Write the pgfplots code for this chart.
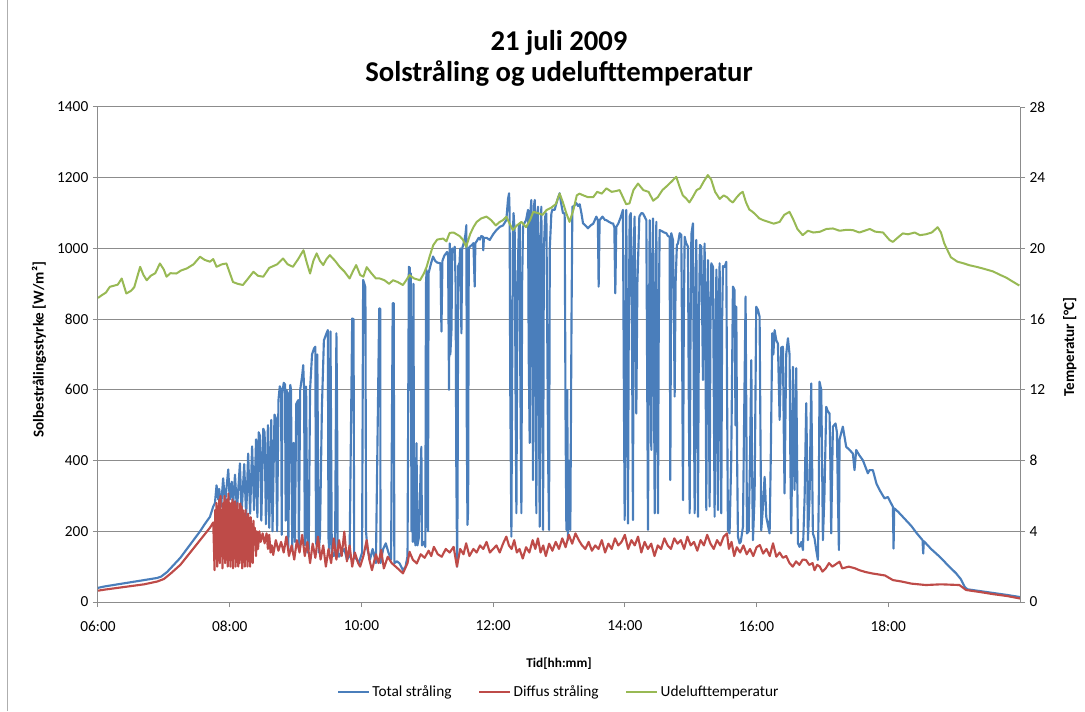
\documentclass[border=0pt]{standalone}
\usepackage{fontspec}
\setmainfont{Carlito}
\usepackage{pgfplots}
\pgfplotsset{compat=1.18}

\definecolor{totblue}{HTML}{4A7EBB}
\definecolor{difred}{HTML}{BE4B48}
\definecolor{tempgreen}{HTML}{98B954}
\definecolor{gridgray}{HTML}{8C8C8C}

% 1 px of the reference = 0.75pt
\pgfplotsset{
  base/.style={
    width=691.5pt, height=371.25pt, scale only axis,
    xmin=6, xmax=20,
    tick align=outside, major tick length=3.75pt,
    tick style={gridgray, line width=0.75pt},
    axis line style={gridgray, line width=0.75pt},
    /pgf/number format/assume math mode=true,
    /pgf/number format/1000 sep={},
    ticklabel style={font=\fontsize{11.5}{13}\selectfont},
    ylabel style={font=\bfseries\fontsize{11.3}{13}\selectfont},
    xlabel style={font=\bfseries\fontsize{10}{12}\selectfont},
  },
}

\begin{document}
\begin{tikzpicture}
\begin{axis}[base, name=ax1,
  ymin=0, ymax=1400, ytick={0,200,...,1400},
  axis y line*=left, axis x line*=bottom,
  xtick={6,8,...,18},
  xticklabels={06:00,08:00,10:00,12:00,14:00,16:00,18:00},
  xticklabel style={yshift=-7pt},
  ymajorgrids, grid style={gridgray, line width=0.75pt},
  xlabel={Tid[hh:mm]},
  xlabel style={at={(axis description cs:0.5,-0.125)}, anchor=center},
  ylabel={Solbestrålingsstyrke [W/m²]},
  ylabel style={at={(axis description cs:-0.064,0.51)}, anchor=center},
]
% Total straaling
\addplot[totblue, line width=1.6pt, line join=round] table {
t v
6.00 40
6.10 44
6.30 50
6.50 56
6.70 62
6.90 68
6.96 72
7.05 85
7.15 105
7.25 125
7.35 150
7.45 175
7.55 200
7.62 220
7.70 241
7.75 270
7.776 280
7.80 330
7.826 290
7.84 320
7.87 270
7.90 350
7.93 280
7.978 375
8.00 290
8.03 340
8.05 270
8.08 360
8.11 260
8.155 392
8.18 250
8.22 390
8.25 240
8.28 420
8.31 250
8.34 440
8.37 260
8.40 460
8.42 240
8.44 480
8.46 470
8.48 230
8.51 490
8.53 480
8.55 220
8.58 500
8.60 210
8.63 515
8.65 200
8.68 530
8.70 520
8.72 200
8.74 570
8.76 610
8.78 600
8.79 190
8.80 590
8.82 620
8.84 615
8.85 230
8.86 600
8.88 590
8.89 150
8.91 560
8.92 614
8.93 600
8.95 145
8.97 450
8.99 170
9.01 560
9.04 571
9.05 150
9.07 600
9.10 640
9.116 670
9.13 600
9.14 160
9.16 609
9.18 140
9.20 150
9.22 600
9.25 700
9.28 717
9.30 722
9.31 170
9.32 160
9.33 700
9.35 140
9.37 185
9.40 550
9.43 740
9.47 760
9.49 769
9.50 180
9.51 150
9.53 765
9.55 140
9.58 130
9.60 150
9.62 760
9.63 560
9.64 150
9.66 128
9.70 140
9.74 150
9.78 120
9.82 130
9.86 802
9.88 800
9.89 130
9.93 120
9.96 110
10.01 140
10.026 911
10.04 903
10.06 890
10.07 200
10.09 150
10.13 120
10.17 150
10.22 110
10.27 830
10.285 830
10.29 110
10.33 150
10.37 166
10.41 140
10.45 120
10.475 845
10.49 845
10.50 110
10.54 115
10.58 109
10.63 90
10.67 100
10.70 130
10.72 948
10.735 945
10.74 600
10.75 930
10.76 200
10.77 581
10.78 170
10.79 900
10.80 220
10.82 160
10.836 449
10.85 160
10.87 180
10.91 439
10.92 160
10.95 170
10.97 156
10.98 900
10.99 939
11.00 250
11.01 200
11.02 930
11.04 945
11.06 960
11.088 977
11.12 965
11.15 960
11.20 958
11.215 765
11.23 965
11.26 980
11.30 990
11.316 977
11.33 600
11.341 1014
11.35 700
11.367 769
11.38 1000
11.40 990
11.417 1005
11.43 900
11.44 400
11.453 100
11.46 300
11.47 950
11.49 960
11.50 1000
11.518 760
11.53 1000
11.56 1020
11.58 1040
11.594 1066
11.60 500
11.61 218
11.62 260
11.63 1000
11.645 1005
11.68 1010
11.70 1015
11.72 892
11.73 1015
11.746 1019
11.78 1030
11.80 1025
11.82 1035
11.847 1033
11.85 995
11.86 1030
11.90 1030
11.948 1024
12.00 1040
12.05 1052
12.10 1061
12.15 1065
12.20 1080
12.226 1140
12.242 1156
12.25 1100
12.26 600
12.277 185
12.29 700
12.30 1040
12.31 1100
12.328 1043
12.34 600
12.353 251
12.37 900
12.39 1060
12.403 1071
12.41 700
12.429 251
12.44 900
12.454 1061
12.47 1070
12.50 1080
12.52 1100
12.53 1109
12.54 700
12.555 450
12.565 1100
12.58 1137
12.59 800
12.606 345
12.62 1120
12.631 1137
12.645 700
12.656 251
12.67 1100
12.682 1118
12.695 600
12.707 213
12.72 1000
12.732 1118
12.745 700
12.758 204
12.77 1000
12.79 1090
12.808 1099
12.82 800
12.835 400
12.849 204
12.86 1000
12.884 1099
12.90 1110
12.935 1109
12.95 1120
12.98 1140
13.01 1156
13.03 1130
13.06 1100
13.086 1099
13.10 500
13.112 204
13.125 600
13.137 175
13.15 400
13.172 204
13.19 800
13.203 1118
13.23 1120
13.263 1128
13.29 1120
13.314 1125
13.34 1100
13.365 1071
13.40 1065
13.44 1057
13.48 1065
13.52 1070
13.567 1090
13.59 1080
13.602 892
13.617 1080
13.66 1090
13.70 1080
13.719 1080
13.76 1075
13.80 1071
13.82 1071
13.84 1060
13.855 873
13.87 1061
13.90 1070
13.94 1090
13.971 1109
13.985 600
13.997 232
14.01 700
14.022 1109
14.035 600
14.047 222
14.06 800
14.073 1090
14.09 1100
14.11 700
14.123 232
14.135 1000
14.148 1090
14.16 800
14.174 533
14.19 900
14.22 1090
14.25 1100
14.275 1099
14.30 1090
14.326 1080
14.34 600
14.351 204
14.365 700
14.377 1080
14.39 800
14.402 430
14.415 900
14.427 1085
14.44 700
14.453 251
14.465 800
14.478 1075
14.49 600
14.503 251
14.515 800
14.528 1052
14.55 1050
14.579 1047
14.60 1045
14.63 1043
14.655 1035
14.68 1033
14.69 345
14.705 1043
14.731 1024
14.745 800
14.756 581
14.77 900
14.79 1010
14.807 1014
14.832 1043
14.857 1038
14.87 700
14.883 288
14.895 800
14.908 1033
14.93 1015
14.958 1005
14.97 600
14.984 251
14.995 700
15.01 1040
15.034 1071
15.047 600
15.06 251
15.072 800
15.085 1024
15.098 600
15.11 241
15.125 800
15.14 1010
15.161 1005
15.175 800
15.186 628
15.20 900
15.211 1014
15.225 700
15.237 260
15.25 850
15.262 967
15.275 600
15.287 270
15.30 800
15.313 958
15.338 948
15.35 600
15.363 241
15.375 700
15.39 940
15.40 500
15.414 260
15.427 850
15.439 958
15.452 600
15.464 251
15.477 800
15.49 950
15.515 948
15.54 962
15.552 600
15.565 204
15.59 194
15.615 400
15.641 892
15.666 882
15.68 500
15.692 835
15.705 400
15.717 185
15.742 166
15.76 170
15.793 213
15.81 500
15.833 864
15.845 500
15.854 194
15.88 200
15.90 400
15.92 684
15.93 400
15.945 175
15.97 300
15.995 835
16.021 826
16.046 807
16.058 500
16.071 203
16.09 250
16.122 354
16.135 300
16.147 241
16.17 220
16.198 194
16.215 400
16.238 760
16.255 700
16.274 769
16.299 740
16.324 731
16.35 515
16.375 720
16.4 722
16.412 500
16.425 307
16.437 500
16.45 700
16.476 746
16.501 700
16.513 400
16.526 194
16.54 400
16.552 665
16.565 500
16.577 317
16.59 500
16.602 661
16.615 400
16.628 166
16.653 156
16.68 170
16.704 147
16.73 300
16.754 562
16.767 400
16.78 175
16.805 300
16.83 618
16.843 400
16.855 194
16.88 180
16.906 147
16.931 119
16.945 300
16.956 623
16.982 600
16.995 400
17.007 175
17.03 300
17.058 552
17.08 540
17.108 533
17.12 400
17.133 194
17.146 350
17.159 496
17.199 505
17.22 480
17.235 300
17.25 147
17.26 460
17.31 496
17.361 439
17.412 430
17.462 420
17.487 373
17.513 430
17.56 415
17.614 401
17.69 364
17.715 373
17.766 373
17.82 335
17.867 317
17.943 293
17.993 297
18.04 280
18.07 269
18.08 151
18.09 265
18.15 255
18.22 241
18.30 225
18.35 215
18.43 195
18.52 175
18.53 137
18.54 172
18.65 150
18.78 128
18.90 105
19.03 81
19.10 65
19.16 43
19.20 36
19.35 32
19.50 28
19.65 24
19.80 20
20.00 14
};
% Diffus straaling
\addplot[difred, line width=1.6pt, line join=round] table {
t v
6.00 32
6.10 35
6.30 40
6.50 45
6.70 50
6.90 58
7.00 65
7.10 80
7.25 105
7.40 140
7.55 175
7.70 210
7.75 225
7.77 90
7.78 260
7.79 140
7.80 280
7.81 100
7.82 270
7.83 160
7.84 290
7.85 110
7.86 300
7.87 130
7.88 250
7.89 95
7.90 280
7.91 150
7.92 300
7.93 110
7.94 280
7.95 120
7.96 290
7.97 100
7.98 307
7.99 160
8.00 280
8.01 100
8.02 270
8.03 140
8.04 290
8.05 95
8.06 280
8.07 130
8.08 285
8.09 100
8.10 270
8.11 150
8.12 280
8.13 100
8.14 260
8.15 110
8.16 279
8.17 120
8.18 270
8.19 95
8.20 260
8.21 130
8.22 250
8.23 100
8.24 260
8.25 140
8.26 240
8.27 100
8.28 250
8.29 150
8.30 230
8.31 100
8.32 240
8.33 160
8.34 220
8.35 110
8.36 230
8.37 170
8.38 210
8.40 130
8.41 200
8.43 150
8.45 200
8.47 170
8.50 194
8.53 166
8.56 194
8.58 150
8.60 190
8.62 140
8.64 160
8.66 133
8.70 175
8.74 145
8.78 170
8.82 140
8.86 185
8.90 130
8.94 160
8.98 120
9.02 175
9.06 140
9.10 190
9.14 130
9.18 170
9.22 110
9.26 165
9.30 125
9.34 185
9.38 120
9.42 160
9.46 100
9.50 150
9.54 110
9.58 180
9.62 120
9.66 175
9.70 130
9.74 199
9.78 115
9.82 160
9.86 100
9.90 140
9.95 110
9.98 100
10.03 130
10.08 175
10.12 120
10.16 90
10.22 135
10.26 110
10.30 147
10.34 95
10.40 128
10.46 110
10.52 100
10.58 90
10.63 81
10.70 110
10.73 142
10.78 120
10.84 109
10.90 135
10.96 125
11.02 145
11.06 130
11.10 156
11.16 135
11.22 128
11.28 150
11.34 140
11.40 156
11.45 100
11.50 150
11.55 135
11.59 166
11.64 130
11.70 150
11.75 140
11.80 160
11.85 150
11.90 170
11.95 140
12.00 150
12.05 160
12.10 140
12.15 165
12.20 185
12.24 160
12.28 150
12.32 175
12.36 140
12.40 150
12.45 123
12.50 155
12.55 140
12.60 175
12.64 150
12.68 180
12.72 140
12.76 160
12.80 130
12.85 165
12.90 145
12.95 170
13.00 150
13.05 180
13.10 155
13.15 190
13.20 165
13.25 194
13.30 175
13.35 160
13.40 150
13.45 170
13.50 145
13.55 160
13.60 150
13.65 175
13.70 140
13.75 165
13.80 150
13.85 180
13.90 160
13.95 170
14.00 190
14.05 150
14.10 175
14.15 160
14.20 185
14.25 140
14.30 170
14.35 150
14.40 165
14.45 130
14.50 160
14.55 150
14.60 180
14.65 160
14.70 150
14.75 180
14.80 165
14.85 175
14.90 150
14.95 185
15.00 160
15.05 170
15.10 145
15.15 175
15.20 160
15.25 190
15.30 165
15.35 150
15.40 175
15.45 160
15.50 185
15.55 194
15.58 150
15.62 170
15.66 130
15.70 155
15.75 140
15.80 160
15.85 135
15.90 150
15.95 130
16.00 155
16.05 161
16.10 137
16.15 150
16.20 130
16.25 166
16.30 128
16.35 140
16.40 125
16.45 130
16.50 110
16.55 100
16.60 115
16.65 105
16.70 120
16.75 119
16.80 105
16.85 110
16.88 90
16.92 105
16.96 100
17.00 86
17.05 95
17.10 110
17.15 100
17.26 114
17.30 95
17.40 100
17.50 95
17.56 90
17.65 85
17.75 81
17.85 78
17.95 75
18.07 62
18.20 58
18.35 52
18.57 48
18.80 50
19.08 48
19.18 34
19.40 28
19.60 22
19.80 17
20.00 10
};
\end{axis}

\begin{axis}[base,
  ymin=0, ymax=28, ytick={0,4,...,28},
  axis y line*=right, axis x line=none,
  ylabel={Temperatur [°C]},
  ylabel style={at={(axis description cs:1.054,0.515)}, anchor=center},
  legend columns=3,
  legend style={draw=none, fill=none, at={(0.5,-0.182)}, anchor=center,
    font=\fontsize{11.5}{13}\selectfont,
    /tikz/every even column/.append style={column sep=18pt}},
  legend image code/.code={\draw[#1] (0pt,0pt) -- (23pt,0pt);},
]
\addlegendimage{totblue, line width=1.6pt}
\addlegendentry{Total stråling}
\addlegendimage{difred, line width=1.6pt}
\addlegendentry{Diffus stråling}
% Udelufttemperatur
\addplot[tempgreen, line width=1.5pt, line join=round] table {
t T
6.00 17.2
6.06 17.36
6.12 17.5
6.18 17.83
6.25 17.9
6.30 17.95
6.36 18.3
6.43 17.45
6.50 17.6
6.55 17.8
6.64 18.96
6.69 18.5
6.74 18.2
6.80 18.45
6.87 18.6
6.94 19.15
7.00 18.8
7.04 18.4
7.10 18.6
7.19 18.58
7.26 18.75
7.35 18.87
7.45 19.1
7.55 19.53
7.62 19.35
7.70 19.25
7.75 19.4
7.80 18.96
7.88 19.1
7.95 19.15
8.05 18.1
8.12 18.0
8.20 17.93
8.28 18.3
8.36 18.68
8.43 18.45
8.51 18.4
8.60 18.9
8.66 19.0
8.72 19.1
8.81 19.43
8.88 19.1
8.96 18.96
9.04 19.4
9.12 19.9
9.17 19.2
9.22 18.58
9.27 19.3
9.32 19.72
9.37 19.3
9.42 19.06
9.47 19.4
9.52 19.62
9.60 19.3
9.67 18.96
9.74 18.7
9.82 18.3
9.87 18.7
9.92 19.06
9.98 18.5
10.03 18.4
10.08 18.94
10.15 18.6
10.22 18.3
10.28 18.3
10.35 18.2
10.42 18.0
10.48 18.2
10.55 18.1
10.63 17.93
10.68 18.2
10.73 18.49
10.80 18.3
10.89 18.2
10.95 18.6
10.99 18.96
11.04 19.6
11.09 20.18
11.15 20.5
11.24 20.56
11.29 20.4
11.34 20.88
11.40 20.9
11.49 20.7
11.54 20.5
11.59 20.09
11.65 20.8
11.70 21.2
11.75 21.5
11.82 21.7
11.90 21.8
11.97 21.6
12.04 21.3
12.10 21.5
12.15 21.6
12.20 21.8
12.25 21.4
12.30 21.04
12.36 21.3
12.43 21.5
12.50 21.2
12.56 21.6
12.61 22.07
12.68 22.0
12.75 21.9
12.81 22.17
12.88 22.3
12.95 22.5
13.01 23.1
13.06 22.6
13.11 22.0
13.16 21.5
13.22 22.2
13.27 23.0
13.31 23.1
13.37 23.0
13.44 22.9
13.52 22.9
13.58 23.2
13.65 23.1
13.72 23.4
13.80 23.2
13.87 23.25
13.92 23.3
14.02 22.5
14.07 22.55
14.13 23.3
14.20 23.67
14.28 23.3
14.36 23.2
14.43 22.7
14.50 22.9
14.57 23.3
14.63 23.5
14.70 23.75
14.78 24.05
14.83 23.5
14.88 23.0
14.93 22.83
14.98 22.6
15.03 22.9
15.09 23.3
15.14 23.4
15.20 23.8
15.26 24.15
15.31 23.9
15.37 23.2
15.44 22.8
15.50 23.0
15.55 22.9
15.60 22.7
15.64 22.6
15.70 22.9
15.75 23.1
15.79 23.2
15.84 22.6
15.89 22.2
15.94 22.07
15.99 21.9
16.04 21.7
16.10 21.6
16.18 21.5
16.26 21.4
16.35 21.5
16.42 21.9
16.50 22.07
16.55 21.7
16.62 21.1
16.70 20.75
16.78 21.0
16.86 20.9
16.96 20.94
17.06 21.1
17.16 21.13
17.26 21.0
17.36 21.05
17.46 21.04
17.56 20.9
17.64 21.0
17.72 21.1
17.80 20.95
17.92 20.9
18.02 20.47
18.07 20.37
18.14 20.6
18.22 20.85
18.30 20.8
18.40 20.9
18.48 20.75
18.57 20.8
18.66 20.9
18.75 21.2
18.80 20.9
18.85 20.28
18.95 19.5
19.05 19.25
19.15 19.15
19.23 19.05
19.35 18.95
19.45 18.85
19.59 18.7
19.70 18.5
19.79 18.35
19.90 18.1
19.99 17.9
};
\addlegendentry{Udelufttemperatur}
\end{axis}

% titles
\node[font=\bfseries\fontsize{21.5}{25}\selectfont, anchor=base]
  at ([yshift=42pt]ax1.north) {21 juli 2009};
\node[font=\bfseries\fontsize{21.5}{25}\selectfont, anchor=base]
  at ([yshift=19pt]ax1.north) {Solstråling og udelufttemperatur};

% frame of the chart area (left edge only visible in the reference)
\draw[gridgray!70, line width=0.75pt]
  ([xshift=-67.5pt, yshift=-81.75pt]ax1.south west) -- ++(0,533.25pt);

\pgfresetboundingbox
\useasboundingbox ([xshift=-73.5pt, yshift=-81.75pt]ax1.south west)
  rectangle ++(813.75pt,533.25pt);
\end{tikzpicture}
\end{document}
